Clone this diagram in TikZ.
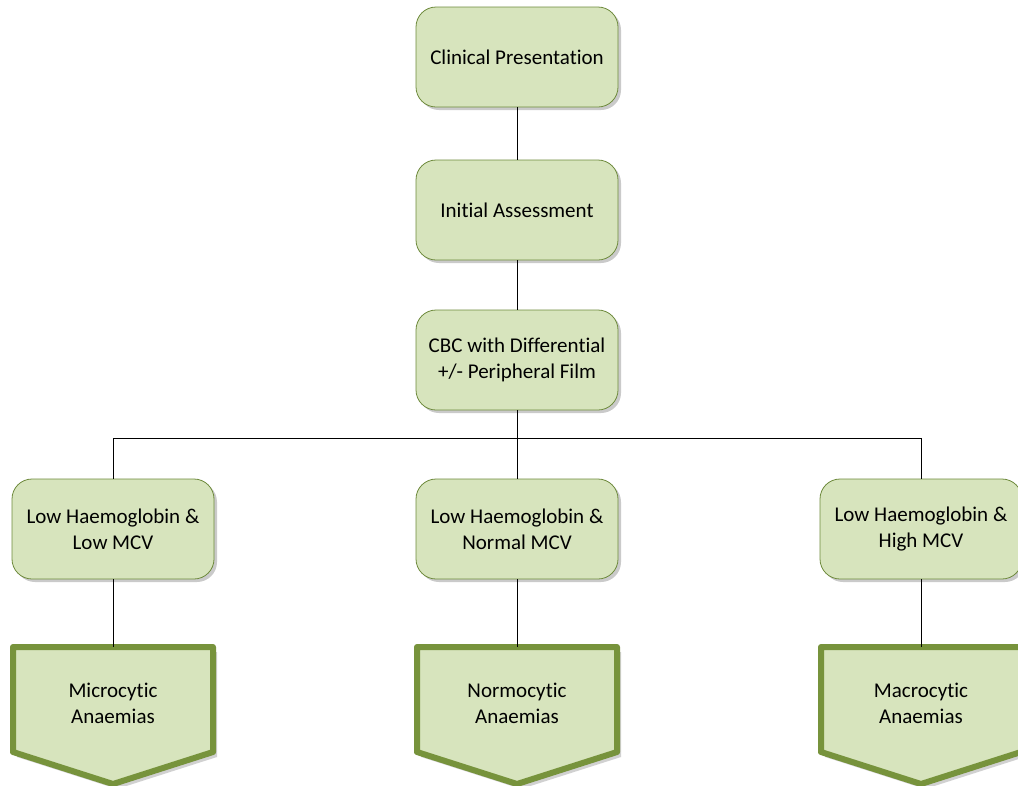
\documentclass[tikz,border=0pt]{standalone}
\usepackage{fontspec}
\setmainfont[Ligatures={NoCommon}]{Carlito}
\usetikzlibrary{shadows}
\definecolor{boxfill}{HTML}{D7E4BD}
\definecolor{boxline}{HTML}{6E8A3C}
\definecolor{pentline}{HTML}{77933C}
\tikzset{
  stepbox/.style={draw=boxline, line width=0.8pt, fill=boxfill, rounded corners=20pt,
    minimum width=202pt, minimum height=100pt, align=center, font=\fontsize{21}{26}\selectfont,
    drop shadow={shadow xshift=3pt, shadow yshift=-3pt, opacity=0.35, fill=black!60}},
  pentext/.style={inner sep=0pt, minimum width=200pt, minimum height=71pt, align=center, font=\fontsize{21}{26}\selectfont},
  pentshape/.style={draw=pentline, line width=6pt, fill=boxfill, line join=round},
  conn/.style={draw=black, line width=1pt},
}
\begin{document}
\begin{tikzpicture}[x=1pt,y=-1pt]
\useasboundingbox (0,0) rectangle (1018,785);
\node[stepbox] (cp) at (517,57) {Clinical Presentation};
\node[stepbox] (ia) at (517,210) {Initial Assessment};
\node[stepbox] (cbc) at (517,360) {CBC with Differential\\+/- Peripheral Film};
\node[stepbox] (l1) at (113,529) {Low Haemoglobin \&\\Low MCV};
\node[stepbox] (l2) at (517,529) {Low Haemoglobin \&\\Normal MCV};
\node[stepbox] (l3) at (921,529) {Low Haemoglobin \&\\High MCV};
% pentagons
\foreach \n/\x in {m1/113,m2/517,m3/921}{
  \coordinate (\n top) at (\x,647);
  \fill[black!60, opacity=0.3] (\x-100+4,647+5) -- (\x+100+4,647+5) -- (\x+100+4,752+5) -- (\x+4,784+5) -- (\x-100+4,752+5) -- cycle;
  \path[pentshape] (\x-100,647) -- (\x+100,647) -- (\x+100,752) -- (\x,784) -- (\x-100,752) -- cycle;
}
\node[pentext] (m1) at (113,703) {Microcytic\\Anaemias};
\node[pentext] (m2) at (517,703) {Normocytic\\Anaemias};
\node[pentext] (m3) at (921,703) {Macrocytic\\Anaemias};
% connectors
\coordinate (bar) at (517,438);
\draw[conn] (cp) -- (ia);
\draw[conn] (ia) -- (cbc);
\draw[conn] (cbc) -- (bar);
\draw[conn] (bar) -| (l1);
\draw[conn] (bar) -- (l2);
\draw[conn] (bar) -| (l3);
\draw[conn] (l1) -- (m1top);
\draw[conn] (l2) -- (m2top);
\draw[conn] (l3) -- (m3top);
\end{tikzpicture}
\end{document}
